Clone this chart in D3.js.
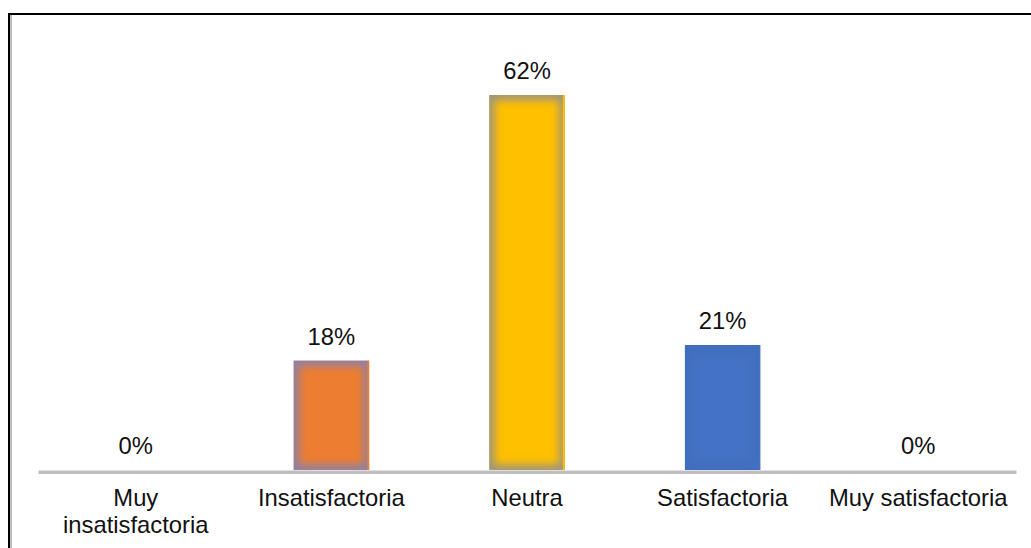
<!DOCTYPE html>
<html>
<head>
<meta charset="utf-8">
<script src="https://cdn.jsdelivr.net/npm/d3@7"></script>
<style>
  html, body { margin: 0; padding: 0; background: #fff; }
  svg { display: block; }
  text { font-family: Arial, "Liberation Sans", sans-serif; fill: #111; }
</style>
</head>
<body>
<svg id="chart" width="1031" height="548"></svg>
<script>
const categories = ["Muy insatisfactoria", "Insatisfactoria", "Neutra", "Satisfactoria", "Muy satisfactoria"];
const values = [0, 17.95, 61.54, 20.51, 0];
const valueLabels = ["0%", "18%", "62%", "21%", "0%"];
const barColors = ["#ED7D31", "#ED7D31", "#FFC000", "#4472C4", "#A5A5A5"];
const glowColors = ["#7a82bd", "#7a82bd", "#8a8d96", "#3a5fa8", "#888888"];

const svg = d3.select("#chart");
const W = 1031, H = 548;
const x0 = 38, x1 = 1016, yBase = 470;

// frame (top and left lines only, as in reference crop)
svg.append("line").attr("x1", 11).attr("x2", 11).attr("y1", 15).attr("y2", H)
  .attr("stroke", "#bdbdbd").attr("stroke-width", 2);
svg.append("line").attr("x1", 9).attr("x2", 9).attr("y1", 13).attr("y2", H)
  .attr("stroke", "#000").attr("stroke-width", 2);
svg.append("line").attr("x1", 8).attr("x2", W).attr("y1", 14).attr("y2", 14)
  .attr("stroke", "#000").attr("stroke-width", 2);

const x = d3.scaleBand().domain(categories).range([x0, x1])
  .paddingInner(0.613).paddingOuter(0.3065);
const y = d3.scaleLinear().domain([0, 70]).range([yBase, yBase - 70 * 6.094]);

const defs = svg.append("defs");
defs.append("filter").attr("id", "blur").attr("x", "-20%").attr("y", "-20%").attr("width", "140%").attr("height", "140%")
  .append("feGaussianBlur").attr("stdDeviation", 4.5);

const data = categories.map((c, i) => ({ c, v: values[i], lab: valueLabels[i], col: barColors[i], glow: glowColors[i], i }));

// bars with inner glow
const g = svg.append("g");
data.filter(d => d.v > 0).forEach(d => {
  const bx = x(d.c), bw = x.bandwidth(), by = y(d.v), bh = yBase - y(d.v);
  const cid = "clip" + d.i;
  defs.append("clipPath").attr("id", cid).append("rect")
    .attr("x", bx).attr("y", by).attr("width", bw).attr("height", bh);
  const bg = g.append("g").attr("clip-path", `url(#${cid})`);
  bg.append("rect").attr("x", bx).attr("y", by).attr("width", bw).attr("height", bh).attr("fill", d.col);
  bg.append("rect").attr("x", bx).attr("y", by).attr("width", bw).attr("height", bh)
    .attr("fill", "none").attr("stroke", d.glow).attr("stroke-width", 10)
    .attr("opacity", d.i === 3 ? 0.25 : 0.9).attr("filter", "url(#blur)");
  // thin right edge in bar colour
  bg.append("rect").attr("x", bx + bw - 2).attr("y", by).attr("width", 2).attr("height", bh).attr("fill", d.col);
});

// axis
const axis = d3.axisBottom(x).tickSize(0).tickSizeOuter(0).tickPadding(0);
const ax = svg.append("g").attr("transform", `translate(0,${yBase + 1.75})`).call(axis);
ax.select(".domain").attr("stroke", "#bfbfbf").attr("stroke-width", 3.5);
ax.selectAll(".tick text").remove();

// category labels with wrapping
const labelSize = 23.8;
const lab = svg.append("g");
data.forEach(d => {
  const cx = x(d.c) + x.bandwidth() / 2;
  const t = lab.append("text").attr("x", cx).attr("y", 506)
    .attr("text-anchor", "middle").attr("font-size", labelSize);
  const words = d.c.split(" ");
  let line = [];
  let ts = t.append("tspan").attr("x", cx).attr("dy", 0);
  words.forEach(w => {
    line.push(w);
    ts.text(line.join(" "));
    if (ts.node().getComputedTextLength() > 185 && line.length > 1) {
      line.pop();
      ts.text(line.join(" "));
      line = [w];
      ts = t.append("tspan").attr("x", cx).attr("dy", 27).text(w);
    }
  });
});

// value labels
svg.append("g").selectAll("text").data(data).join("text")
  .attr("x", d => x(d.c) + x.bandwidth() / 2)
  .attr("y", d => y(d.v) - 16)
  .attr("text-anchor", "middle").attr("font-size", labelSize)
  .text(d => d.lab);
</script>
</body>
</html>
